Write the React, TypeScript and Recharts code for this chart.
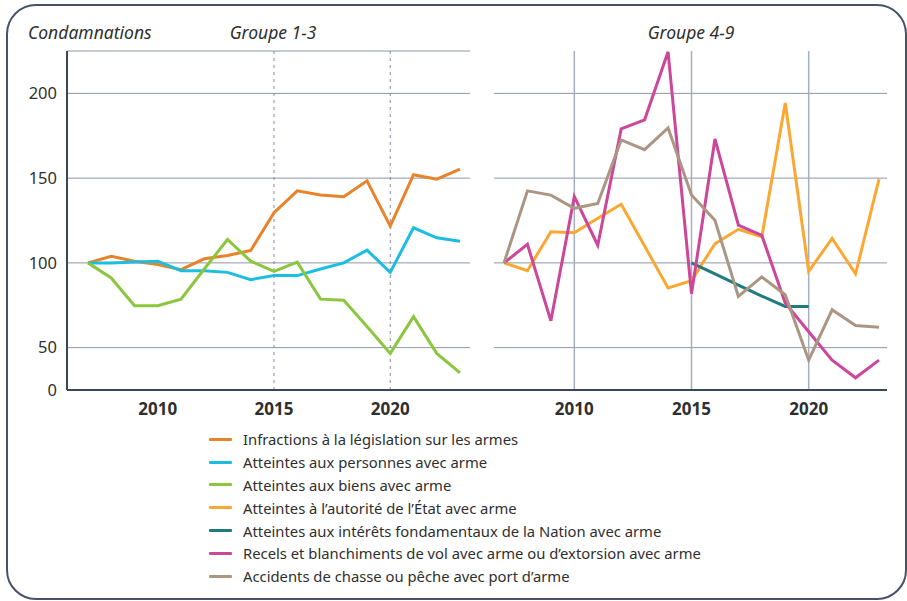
import { LineChart, Line, XAxis, YAxis, CartesianGrid, ReferenceLine } from 'recharts'

const years = [2007, 2008, 2009, 2010, 2011, 2012, 2013, 2014, 2015, 2016, 2017, 2018, 2019, 2020, 2021, 2022, 2023]

// Groupe 1-3
const infractionsLegislation = [100, 103.9, 101, 99, 96, 102.4, 104.3, 107.3, 129.6, 142.5, 140, 139, 148.4, 121.7, 152, 149.4, 155.3]
const atteintesPersonnes = [100, 100, 100.5, 101, 95.4, 95.4, 94.4, 90.1, 92.5, 92.5, 96.4, 100, 107.5, 94.4, 120.7, 114.8, 112.8]
const atteintesBiens = [100, 91.1, 74.7, 74.7, 78.6, 96.4, 113.8, 101, 95, 100.4, 78.6, 77.9, 62.4, 46.6, 68.3, 46.6, 35.1]

// Groupe 4-9
const autoriteEtat = [100, 95.4, 118.4, 117.8, 126.3, 134.6, 109.9, 85.2, 89.5, 111.3, 119.8, 115.4, 194.3, 95, 114.4, 93.5, 149.4]
const interetsNation = [null, null, null, null, null, null, null, null, 100, 93.5, 86.9, 80.4, 74.3, 74.3, null, null, null]
const recels = [100, 110.9, 65.8, 139.1, 110.4, 179, 184.4, 224.5, 81.8, 173.1, 122.3, 116.2, 76.3, 59.4, 42.6, 32.2, 42.6]
const accidentsChasse = [100, 142.5, 140, 132.2, 135, 172.5, 166.8, 179.6, 140, 125.1, 80.2, 91.7, 81.2, 42.6, 72.3, 63, 62]

const yTicks = [25, 50, 100, 150, 200]
const xTicks = [2010, 2015, 2020]
const gridValues = [50, 100, 150, 200]

const SERIES = [
  { key: 'infractions', label: 'Infractions à la législation sur les armes', color: '#e8832a', values: infractionsLegislation, group: 1 },
  { key: 'personnes', label: 'Atteintes aux personnes avec arme', color: '#1bbde0', values: atteintesPersonnes, group: 1 },
  { key: 'biens', label: 'Atteintes aux biens avec arme', color: '#8cc63f', values: atteintesBiens, group: 1 },
  { key: 'autorite', label: 'Atteintes à l’autorité de l’État avec arme', color: '#fba833', values: autoriteEtat, group: 2 },
  { key: 'nation', label: 'Atteintes aux intérêts fondamentaux de la Nation avec arme', color: '#207b7c', values: interetsNation, group: 2 },
  { key: 'recels', label: 'Recels et blanchiments de vol avec arme ou d’extorsion avec arme', color: '#cc4699', values: recels, group: 2 },
  { key: 'chasse', label: 'Accidents de chasse ou pêche avec port d’arme', color: '#ab9683', values: accidentsChasse, group: 2 },
]

const data = years.map((annee, i) => {
  const row: Record<string, number | null> = { annee }
  SERIES.forEach((s) => {
    row[s.key] = s.values[i]
  })
  return row
})

const FONT = '"Noto Sans", "Open Sans", sans-serif'
const AXIS = '#3b4658'
const GRID = '#8d95a8'
const TEXT = '#2f2f2f'

// bornes de la grille du panneau droit (en années, hors données)
const GRID_START = 2006.57
const GRID_END = 2023.34

const formatY = (v: number) => (v === 25 ? '0' : String(v))

function Titre({ children, left, center }: { children: string; left: number; center?: boolean }) {
  return (
    <div
      style={{
        position: 'absolute',
        top: 20,
        left,
        transform: center ? 'translateX(-50%)' : undefined,
        fontStyle: 'italic',
        fontSize: 17.5,
        color: TEXT,
        whiteSpace: 'nowrap',
      }}
    >
      {children}
    </div>
  )
}

export default function App() {
  const xTick = { fontSize: 17, fontWeight: 700, fill: TEXT, fontFamily: FONT }

  return (
    <div
      style={{
        position: 'absolute',
        left: 0,
        top: 0,
        width: 907,
        height: 601,
        background: '#fff',
        fontFamily: FONT,
      }}
    >
      <div
        style={{
          position: 'absolute',
          left: 6,
          top: 4,
          width: 897,
          height: 592,
          border: '2px solid #46526a',
          borderRadius: 30,
        }}
      />

      <Titre left={28}>Condamnations</Titre>
      <Titre left={273} center>Groupe 1-3</Titre>
      <Titre left={691} center>Groupe 4-9</Titre>

      <div style={{ position: 'absolute', left: 0, top: 0 }}>
        <LineChart width={480} height={430} data={data} margin={{ top: 51, right: 10, bottom: 10, left: 0 }}>
          <CartesianGrid vertical={false} stroke={GRID} strokeWidth={1} />
          <XAxis
            dataKey="annee"
            type="number"
            domain={[2007, 2023]}
            ticks={xTicks}
            padding={{ left: 21, right: 10 }}
            height={30}
            tickLine={false}
            tickMargin={7}
            axisLine={{ stroke: AXIS, strokeWidth: 2 }}
            tick={xTick}
          />
          <YAxis
            domain={[25, 225]}
            ticks={yTicks}
            tickFormatter={formatY}
            width={67}
            tickLine={false}
            tickMargin={4}
            axisLine={{ stroke: AXIS, strokeWidth: 2 }}
            tick={{ fontSize: 16.5, fill: TEXT, fontFamily: FONT }}
          />
          {[2015, 2020].map((x) => (
            <ReferenceLine key={x} x={x} stroke="#8088a0" strokeDasharray="3 4" strokeWidth={1} />
          ))}
          {SERIES.filter((s) => s.group === 1).map((s) => (
            <Line
              key={s.key}
              dataKey={s.key}
              stroke={s.color}
              strokeWidth={3}
              dot={false}
              type="linear"
              isAnimationActive={false}
            />
          ))}
        </LineChart>
      </div>

      <div style={{ position: 'absolute', left: 470, top: 0 }}>
        <LineChart width={430} height={430} data={data} margin={{ top: 51, right: 13, bottom: 10, left: 0 }}>
          <XAxis
            dataKey="annee"
            type="number"
            domain={[2007, 2023]}
            ticks={xTicks}
            padding={{ left: 34, right: 8 }}
            height={30}
            tickLine={false}
            tickMargin={7}
            axisLine={{ stroke: AXIS, strokeWidth: 2 }}
            tick={xTick}
          />
          <YAxis domain={[25, 225]} ticks={yTicks} hide />
          {gridValues.map((v) => (
            <ReferenceLine
              key={v}
              segment={[
                { x: GRID_START, y: v },
                { x: GRID_END, y: v },
              ]}
              stroke={GRID}
              strokeWidth={1}
              ifOverflow="visible"
            />
          ))}
          {xTicks.map((x) => (
            <ReferenceLine key={x} x={x} stroke="#a6aebf" strokeWidth={1.5} />
          ))}
          {SERIES.filter((s) => s.group === 2).map((s) => (
            <Line
              key={s.key}
              dataKey={s.key}
              stroke={s.color}
              strokeWidth={3}
              dot={false}
              type="linear"
              connectNulls={false}
              isAnimationActive={false}
            />
          ))}
        </LineChart>
      </div>

      <div style={{ position: 'absolute', left: 209, top: 428 }}>
        {SERIES.map((s) => (
          <div key={s.key} style={{ display: 'flex', alignItems: 'center', height: 22.8 }}>
            <span style={{ width: 23, height: 3, background: s.color, borderRadius: 1, marginRight: 11 }} />
            <span style={{ fontSize: 14.8, color: TEXT, whiteSpace: 'nowrap' }}>{s.label}</span>
          </div>
        ))}
      </div>
    </div>
  )
}
